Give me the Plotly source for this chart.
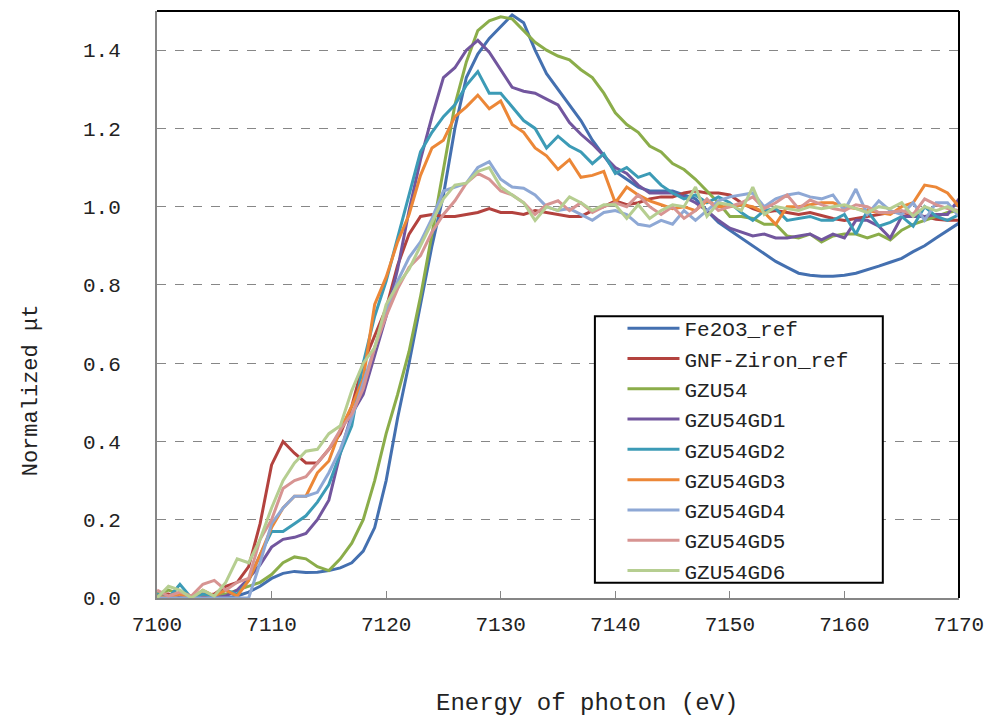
import plotly.graph_objects as go

# Photon energy grid (eV), 1 eV steps
energy = list(range(7100, 7171))

fe2o3_ref = [0.0, 0.0, 0.0, 0.0, 0.0, 0.0, 0.0, 0.005, 0.015, 0.03,
             0.05, 0.063, 0.068, 0.065, 0.066, 0.07, 0.077, 0.09, 0.12, 0.18,
             0.30, 0.46, 0.60, 0.75, 0.90, 1.03, 1.20, 1.33, 1.39, 1.43,
             1.46, 1.49, 1.47, 1.40, 1.34, 1.30, 1.26, 1.22, 1.17, 1.13,
             1.09, 1.07, 1.05, 1.04, 1.04, 1.04, 1.03, 1.02, 0.99, 0.96,
             0.94, 0.92, 0.90, 0.88, 0.86, 0.845, 0.83, 0.825, 0.822, 0.822,
             0.825, 0.83, 0.838, 0.848, 0.858, 0.868, 0.885, 0.90, 0.92, 0.94,
             0.958]

gnf_ziron_ref = [0.01, 0.01, 0.0, 0.0, 0.005, 0.01, 0.03, 0.04, 0.08, 0.19,
                 0.34, 0.40, 0.37, 0.345, 0.345, 0.38, 0.42, 0.49, 0.60, 0.67,
                 0.74, 0.85, 0.93, 0.975, 0.98, 0.975, 0.975, 0.98, 0.985, 0.995,
                 0.985, 0.985, 0.98, 0.99, 0.985, 0.98, 0.975, 0.975, 0.99, 1.0,
                 1.015, 1.005, 1.01, 1.02, 1.025, 1.025, 1.035, 1.04, 1.035, 1.035,
                 1.03, 1.01, 0.995, 0.985, 0.99, 0.985, 0.98, 0.985, 0.978, 0.97,
                 0.965, 0.97, 0.975, 0.98, 0.985, 0.985, 0.98, 0.975, 0.968, 0.965,
                 0.965]

gzu54 = [0.01, 0.02, 0.01, 0.0, 0.01, 0.005, 0.01, 0.02, 0.03, 0.04,
         0.06, 0.09, 0.105, 0.10, 0.08, 0.07, 0.10, 0.14, 0.20, 0.30,
         0.42, 0.52, 0.63, 0.77, 0.93, 1.10, 1.26, 1.37, 1.45, 1.475,
         1.485, 1.48, 1.45, 1.42, 1.40, 1.385, 1.375, 1.35, 1.33, 1.29,
         1.24, 1.21, 1.19, 1.155, 1.14, 1.11, 1.095, 1.07, 1.04, 1.01,
         0.975, 0.975, 0.97, 0.955, 0.955, 0.925, 0.92, 0.93, 0.91, 0.925,
         0.93, 0.93, 0.92, 0.93, 0.915, 0.94, 0.955, 0.965, 0.975, 0.985,
         0.99]

gzu54gd1 = [0.0, 0.0, 0.0, 0.0, 0.0, 0.0, 0.005, 0.02, 0.05, 0.085,
            0.13, 0.15, 0.155, 0.165, 0.20, 0.25, 0.37, 0.47, 0.52, 0.62,
            0.72, 0.84, 0.99, 1.12, 1.23, 1.33, 1.355, 1.40, 1.425, 1.395,
            1.35, 1.305, 1.295, 1.29, 1.275, 1.26, 1.215, 1.185, 1.16, 1.13,
            1.10, 1.085, 1.055, 1.035, 1.035, 1.035, 1.025, 1.01, 0.99, 0.965,
            0.945, 0.935, 0.925, 0.93, 0.92, 0.92, 0.925, 0.93, 0.915, 0.93,
            0.92, 0.965, 0.965, 0.95, 0.92, 0.975, 0.975, 0.975, 0.98, 0.98,
            1.02]

gzu54gd2 = [0.01, 0.0, 0.035, 0.0, 0.01, 0.005, 0.02, 0.01, 0.045, 0.11,
            0.17, 0.17, 0.19, 0.21, 0.245, 0.29, 0.37, 0.44, 0.60, 0.72,
            0.81, 0.92, 1.03, 1.14, 1.19, 1.23, 1.26, 1.31, 1.345, 1.29,
            1.29, 1.255, 1.22, 1.20, 1.15, 1.18, 1.155, 1.14, 1.11, 1.135,
            1.085, 1.10, 1.075, 1.085, 1.055, 1.035, 1.02, 1.03, 1.01, 1.025,
            1.01, 0.985, 0.965, 0.99, 0.995, 0.965, 0.97, 0.975, 0.965, 0.965,
            0.98, 0.93, 0.99, 0.95, 0.96, 0.975, 0.95, 1.0, 0.975, 0.965,
            0.98]

gzu54gd3 = [0.005, 0.0, 0.01, 0.0, 0.02, 0.005, 0.02, 0.005, 0.045, 0.11,
            0.18, 0.23, 0.26, 0.26, 0.32, 0.35, 0.43, 0.49, 0.56, 0.75,
            0.82, 0.91, 0.98, 1.08, 1.15, 1.17, 1.23, 1.255, 1.285, 1.25,
            1.27, 1.21, 1.19, 1.15, 1.13, 1.095, 1.12, 1.075, 1.08, 1.09,
            1.01, 1.05, 1.03, 1.015, 1.005, 0.995, 1.0, 0.99, 1.015, 1.0,
            1.0, 1.005, 1.0, 0.985, 0.955, 1.0, 1.0, 1.005, 1.01, 1.01,
            1.0, 0.995, 0.99, 0.985, 0.98, 1.0, 1.01, 1.055, 1.05, 1.035,
            1.0]

gzu54gd4 = [0.0, 0.0, 0.0, 0.0, 0.0, 0.0, 0.0, 0.0, 0.0, 0.09,
            0.19, 0.23, 0.26, 0.26, 0.27, 0.32, 0.38, 0.46, 0.55, 0.64,
            0.73, 0.81, 0.87, 0.91, 0.97, 1.04, 1.05, 1.06, 1.10, 1.115,
            1.07, 1.05, 1.047, 1.03, 1.0, 0.99, 0.995, 0.98, 0.965, 0.985,
            0.99, 0.98, 0.955, 0.95, 0.965, 0.955, 0.99, 0.965, 0.99, 1.015,
            1.025, 1.03, 1.035, 1.0, 1.02, 1.03, 1.035, 1.025, 1.02, 1.03,
            0.99, 1.045, 0.98, 1.015, 0.99, 0.98, 1.01, 0.965, 1.01, 1.01,
            0.975]

gzu54gd5 = [0.02, 0.005, 0.015, 0.005, 0.035, 0.045, 0.02, 0.04, 0.05, 0.15,
            0.20, 0.28, 0.30, 0.31, 0.345, 0.38, 0.43, 0.47, 0.535, 0.64,
            0.72, 0.79, 0.845, 0.875, 0.935, 0.98, 1.015, 1.06, 1.085, 1.07,
            1.04, 1.03, 1.01, 0.98, 1.005, 1.015, 0.99, 1.01, 0.985, 1.0,
            1.01, 1.0, 1.03, 1.0, 0.98, 1.0, 0.97, 0.99, 1.02, 0.99,
            1.0, 1.01, 1.025, 0.995, 1.01, 1.03, 0.995, 1.017, 1.005, 0.995,
            0.99, 1.005, 1.0, 0.985, 0.985, 0.99, 0.98, 1.02, 1.005, 0.995,
            0.99]

gzu54gd6 = [0.0, 0.03, 0.02, 0.0, 0.02, 0.005, 0.04, 0.10, 0.09, 0.15,
            0.23, 0.30, 0.345, 0.375, 0.38, 0.42, 0.44, 0.53, 0.60, 0.64,
            0.75, 0.80, 0.84, 0.90, 0.96, 1.02, 1.055, 1.06, 1.09, 1.10,
            1.05, 1.03, 1.01, 0.965, 1.0, 0.99, 1.025, 1.01, 0.99, 1.005,
            1.005, 0.97, 1.005, 0.97, 0.99, 1.005, 1.0, 1.05, 0.975, 1.01,
            1.005, 0.99, 1.05, 0.98, 1.0, 0.995, 0.99, 1.0, 0.995, 1.0,
            1.005, 0.995, 0.985, 1.0, 0.995, 1.01, 0.975, 1.0, 0.99, 1.0,
            0.985]

series_names = ["Fe2O3_ref", "GNF-Ziron_ref", "GZU54", "GZU54GD1", "GZU54GD2",
                "GZU54GD3", "GZU54GD4", "GZU54GD5", "GZU54GD6"]
series_values = [fe2o3_ref, gnf_ziron_ref, gzu54, gzu54gd1, gzu54gd2,
                 gzu54gd3, gzu54gd4, gzu54gd5, gzu54gd6]
colors = ["#4470B0", "#B3423E", "#8BAD4A", "#72569E", "#3C9BB6",
          "#EC8737", "#8EA8D5", "#D79492", "#B6CE91"]

y_ticks = [0.0, 0.2, 0.4, 0.6, 0.8, 1.0, 1.2, 1.4]
x_ticks = [7100, 7110, 7120, 7130, 7140, 7150, 7160, 7170]

FONT = "Liberation Mono"
TEXT = "#222222"

fig = go.Figure()
for name, vals, col in zip(series_names, series_values, colors):
    fig.add_trace(go.Scatter(x=energy, y=vals, mode="lines", name=name,
                             line=dict(color=col, width=3)))

fig.update_layout(
    width=995, height=716,
    margin=dict(l=157, r=30, t=11, b=118),
    paper_bgcolor="white", plot_bgcolor="white",
    font=dict(family=FONT, size=21, color=TEXT),
    showlegend=True,
    legend=dict(x=0.5804, y=0.4940, xanchor="left", yanchor="top",
                bgcolor="rgba(0,0,0,0)", borderwidth=0,
                font=dict(family=FONT, size=21, color=TEXT),
                itemwidth=52, tracegroupgap=0),
    xaxis=dict(range=[7100, 7170], tickvals=x_ticks, showgrid=False,
               showline=True, linecolor="#868686", linewidth=2,
               ticks="inside", ticklen=7, tickcolor="#868686", tickwidth=1,
               zeroline=False, ticklabelstandoff=6),
    yaxis=dict(range=[0, 1.5], tickvals=y_ticks, tickformat=".1f",
               showgrid=True, gridcolor="#878787", griddash="dash", gridwidth=1.3,
               showline=True, linecolor="#868686", linewidth=2,
               ticks="", zeroline=False, ticklabelstandoff=30),
    annotations=[
        dict(text="Energy of photon (eV)", xref="paper", yref="paper",
             x=0.536, y=-0.179, xanchor="center", yanchor="middle",
             showarrow=False, font=dict(family=FONT, size=24, color=TEXT)),
        dict(text="Normalized μt", xref="paper", yref="paper",
             x=-0.157, y=0.354, xanchor="center", yanchor="middle",
             textangle=-90, showarrow=False,
             font=dict(family=FONT, size=22, color=TEXT)),
    ],
    shapes=[
        # top and right frame edges
        dict(type="line", xref="paper", yref="paper", x0=0, x1=1, y0=1, y1=1,
             line=dict(color="black", width=2)),
        dict(type="line", xref="paper", yref="paper", x0=1, x1=1, y0=0, y1=1,
             line=dict(color="black", width=2)),
        # legend panel
        dict(type="rect", xref="paper", yref="paper", layer="above",
             x0=0.546, x1=0.905, y0=0.026, y1=0.480,
             fillcolor="white", line=dict(color="black", width=2)),
    ],
)

fig.write_html("out.html")
